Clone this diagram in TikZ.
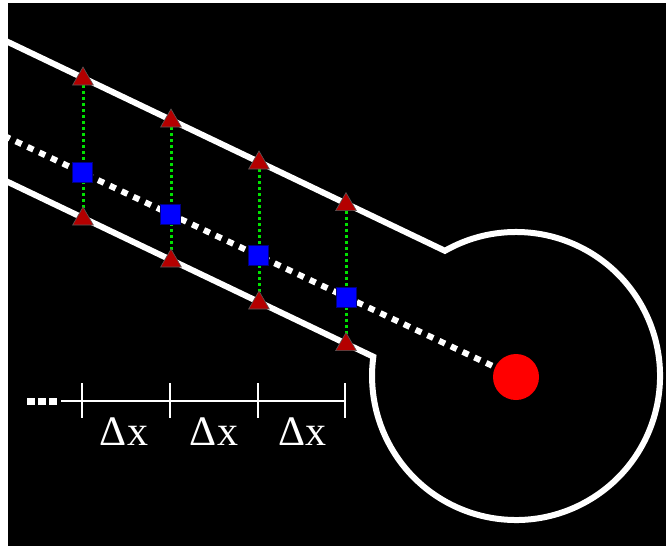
\documentclass[tikz,border=0pt]{standalone}
\usepackage{fontspec}
\setmainfont{Liberation Serif}
\usetikzlibrary{shapes.geometric}
\definecolor{rougeF}{RGB}{180,0,0}
\definecolor{vertV}{RGB}{0,225,0}
\begin{document}
\begin{tikzpicture}[x=1pt,y=-1pt]
		% Styles (MODIFIABLES)
		\tikzstyle{paroi}=[white,line width=6pt,line join=miter]
		\tikzstyle{axe}=[white,line width=6pt,dash pattern=on 6.5pt off 6.5pt]
		\tikzstyle{liaison}=[vertV,line width=3pt,dash pattern=on 3pt off 3pt]
		\tikzstyle{capteur}=[regular polygon,regular polygon sides=3,minimum size=24pt,inner sep=0pt,fill=rougeF,draw=black!65,line width=0.6pt]
		\tikzstyle{mesure}=[rectangle,minimum size=20pt,inner sep=0pt,fill=blue,draw=blue!50!black,line width=0.5pt]
		\tikzstyle{source}=[circle,minimum size=46pt,inner sep=0pt,fill=red]
		\tikzstyle{regle}=[white,line width=2.5pt]
		\tikzstyle{commentaire}=[white,font=\fontsize{42}{50}\selectfont,anchor=base,inner sep=0pt]
		% Dimensions (MODIFIABLES)
		\def\Rayon{144}
		% Fond
		\useasboundingbox (0,0) rectangle (666,546);
		\fill[white] (0,0) rectangle (666,546);
		\fill[black] (8,3) rectangle (666,546);
		\begin{scope}
		\clip (8,3) rectangle (666,546);
		% Paroi du tube et de la chambre
		\draw[paroi] (4,40.1) -- (444.9,250.8) arc[start angle=240.4,end angle=547.7,radius=\Rayon] -- (4,180.1);
		% Points de mesure (coordonnées)
		\coordinate (H1) at (83,79);
		\coordinate (H2) at (171,121);
		\coordinate (H3) at (259,163);
		\coordinate (H4) at (346,204.6);
		\coordinate (B1) at (83,219);
		\coordinate (B2) at (171,261);
		\coordinate (B3) at (259,303);
		\coordinate (B4) at (346,344.6);
		\coordinate (M1) at (82,172.6);
		\coordinate (M2) at (170,214);
		\coordinate (M3) at (258,255.5);
		\coordinate (M4) at (346,297);
		\coordinate (debut) at (4,135.8);
		% Liaisons verticales
		\draw[liaison] (H1)--(B1);
		\draw[liaison] (H2)--(B2);
		\draw[liaison] (H3)--(B3);
		\draw[liaison] (H4)--(B4);
		% Axe
		\node[source] (S) at (516,377) {};
		\draw[axe] (debut)--(S);
		\end{scope}
		% Noeuds
		\node[mesure] (m1) at (M1) {};
		\node[mesure] (m2) at (M2) {};
		\node[mesure] (m3) at (M3) {};
		\node[mesure] (m4) at (M4) {};
		\node[capteur] (h1) at (H1) {};
		\node[capteur] (h2) at (H2) {};
		\node[capteur] (h3) at (H3) {};
		\node[capteur] (h4) at (H4) {};
		\node[capteur] (b1) at (B1) {};
		\node[capteur] (b2) at (B2) {};
		\node[capteur] (b3) at (B3) {};
		\node[capteur] (b4) at (B4) {};
		% Regle
		\coordinate (G0) at (82,401);
		\coordinate (G1) at (170,401);
		\coordinate (G2) at (258,401);
		\coordinate (G3) at (345,401);
		\coordinate (Gd) at (61,401);
		\draw[white,line width=7pt,dash pattern=on 8pt off 3pt] (27,401)--(57,401);
		\draw[regle] (Gd)--(G3);
		\draw[regle] (G0) ++(0,-18) -- ++(0,35);
		\draw[regle] (G1) ++(0,-18) -- ++(0,35);
		\draw[regle] (G2) ++(0,-18) -- ++(0,35);
		\draw[regle] (G3) ++(0,-18) -- ++(0,35);
		\node[commentaire] (D1) at (124,445) {Δx};
		\node[commentaire] (D2) at (214,445) {Δx};
		\node[commentaire] (D3) at (302,445) {Δx};
\end{tikzpicture}
\end{document}
